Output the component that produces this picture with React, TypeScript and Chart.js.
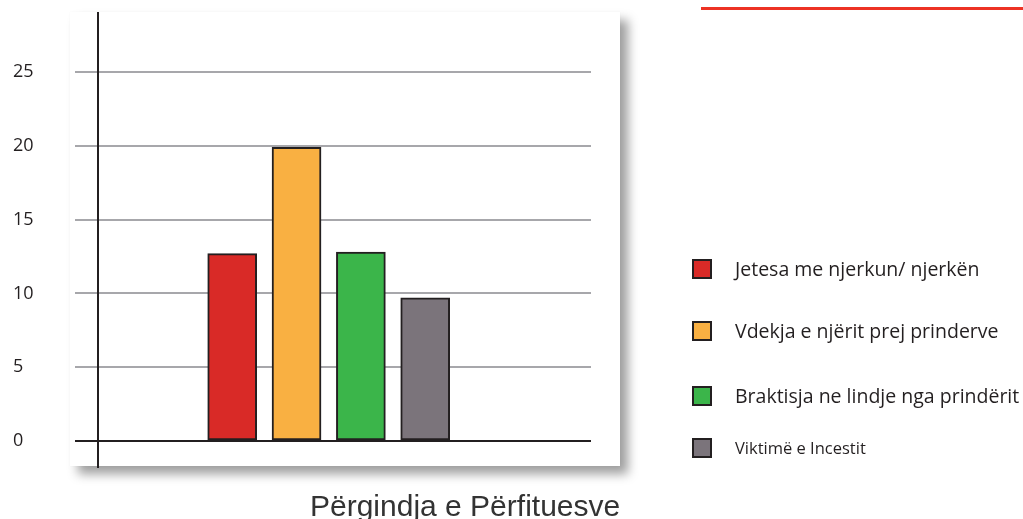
import React, { useEffect, useRef } from "react";
import { Chart, registerables } from "chart.js";

Chart.register(...registerables);

// ---- data ----
const categories = [
  "Jetesa me njerkun/ njerkën",
  "Vdekja e njërit prej prinderve",
  "Braktisja ne lindje nga prindërit",
  "Viktimë e Incestit",
];
const values = [12.7, 19.9, 12.8, 9.7];
const barColors = ["#d92a27", "#f9b042", "#3bb54a", "#7b747b"];
const yTickValues = [0, 5, 10, 15, 20, 25];
const chartTitle = "Përgindja e Përfituesve";

// ---- layout / style ----
const legendRows = [
  { center: 269, size: 19.5 },
  { center: 331, size: 19.5 },
  { center: 395.5, size: 19.5 },
  { center: 447.7, size: 16.5 },
];
const INK = "#231f20";

export default function App() {
  const canvasRef = useRef<HTMLCanvasElement | null>(null);

  useEffect(() => {
    const canvas = canvasRef.current;
    if (!canvas) return;
    const chart = new Chart(canvas, {
      type: "bar",
      data: {
        datasets: [
          {
            label: chartTitle,
            data: categories.map((c, i) => ({ x: i + 1, y: values[i] })) as any,
            backgroundColor: barColors,
            borderColor: INK,
            borderWidth: 2,
            borderSkipped: false,
            barThickness: 49,
          },
        ],
      },
      options: {
        responsive: false,
        animation: false,
        events: [],
        layout: { padding: { left: 13, top: 13, right: 432, bottom: 52 } },
        plugins: {
          legend: { display: false },
          tooltip: { enabled: false },
          title: { display: false },
        },
        scales: {
          x: {
            type: "linear",
            offset: false,
            min: -1.086,
            max: 6.577,
            display: false,
          },
          y: {
            min: -1.76,
            max: 29,
            afterBuildTicks: (scale: any) => {
              scale.ticks = yTickValues.map((v) => ({ value: v }));
            },
            afterFit: (scale: any) => {
              scale.width = 85;
            },
            ticks: {
              stepSize: 5,
              crossAlign: "far",
              padding: 0,
              color: INK,
              font: { family: "'Open Sans', sans-serif", size: 18 },
            },
            grid: {
              color: (ctx: any) =>
                ctx.tick && ctx.tick.value === 0 ? INK : "#a7a7ab",
              lineWidth: 2,
              drawTicks: true,
              tickLength: 23,
            },
            border: { display: true, color: INK, width: 2 },
          },
        },
      },
    });
    return () => chart.destroy();
  }, []);

  return (
    <div
      style={{
        position: "absolute",
        left: 0,
        top: 0,
        width: 1023,
        height: 519,
        background: "#ffffff",
        overflow: "hidden",
      }}
    >
      <div
        style={{
          position: "absolute",
          left: 70,
          top: 12,
          width: 550,
          height: 454,
          background: "#ffffff",
          boxShadow: "8px 8px 10px rgba(0,0,0,0.38), 0 0 1px rgba(0,0,0,0.06)",
        }}
      />
      <canvas
        ref={canvasRef}
        width={1023}
        height={519}
        style={{ position: "absolute", left: 0, top: 0, width: 1023, height: 519 }}
      />
      <div
        style={{
          position: "absolute",
          left: 701,
          top: 7,
          width: 322,
          height: 3,
          background: "#ed3224",
        }}
      />
      {categories.map((name, i) => (
        <div
          key={name}
          style={{
            position: "absolute",
            left: 692,
            top: legendRows[i].center - 15,
            height: 30,
            display: "flex",
            alignItems: "center",
            whiteSpace: "nowrap",
          }}
        >
          <div
            style={{
              width: 20,
              height: 20,
              boxSizing: "border-box",
              border: `2px solid ${INK}`,
              background: barColors[i],
              marginRight: 23,
              flex: "none",
            }}
          />
          <span
            style={{
              fontFamily: "'Open Sans', sans-serif",
              fontSize: legendRows[i].size,
              color: INK,
              lineHeight: "30px",
            }}
          >
            {name}
          </span>
        </div>
      ))}
      <div
        style={{
          position: "absolute",
          left: 310,
          top: 490.6,
          fontFamily: "'Liberation Sans', Arial, sans-serif",
          fontSize: 30,
          lineHeight: "30px",
          color: "#333333",
          whiteSpace: "nowrap",
        }}
      >
        {chartTitle}
      </div>
    </div>
  );
}
